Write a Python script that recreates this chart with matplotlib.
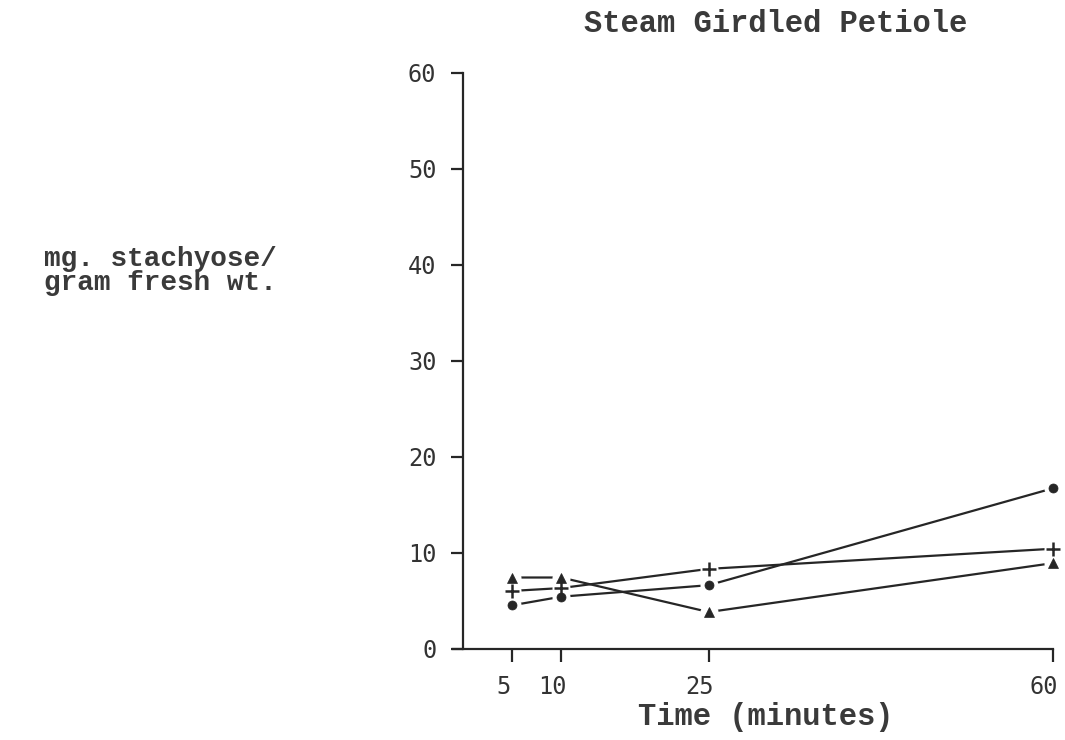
import matplotlib
matplotlib.use('Agg')
import matplotlib.pyplot as plt
from matplotlib.transforms import ScaledTranslation

# data (mg stachyose / g fresh wt)
minutes = [5, 10, 25, 60]
circle_vals = [4.5, 5.4, 6.6, 16.7]
plus_vals = [6.0, 6.3, 8.3, 10.4]
tri_vals = [7.4, 7.4, 3.8, 8.9]
xticks = [5, 10, 25, 60]
yticks = [0, 10, 20, 30, 40, 50, 60]

INK = '#262626'
TXT = '#3a3a3a'
TYPE = ['Liberation Mono', 'DejaVu Sans Mono']
DIGITS = ['DejaVu Sans Mono']

fig = plt.figure(figsize=(10.65, 7.40), dpi=100)
ax = fig.add_axes([453/1065, 1-648.5/740, 600/1065, 578.5/740])

series = [(circle_vals, 'o', 6.5, 0.5), (plus_vals, '+', 10, 1.8), (tri_vals, '^', 7.5, 0.5)]
for vals, mk, ms, mew in series:
    ax.plot(minutes, vals, '-', color=INK, lw=1.6, zorder=2, clip_on=False)
    ax.plot(minutes, vals, 'o', ls='none', color='white', ms=13, mew=0, zorder=3, clip_on=False)   # white halo -> gap between line and marker
for vals, mk, ms, mew in series:
    ax.plot(minutes, vals, mk, ls='none', color=INK, ms=ms, mew=mew, zorder=4, clip_on=False)

ax.set_xlim(-1, 60); ax.set_ylim(0, 60.3)
for s in ('top', 'right'): ax.spines[s].set_visible(False)
ax.spines['left'].set_position(('data', 0)); ax.spines['left'].set_bounds(0, 60)
ax.spines['bottom'].set_bounds(-1, 60)
for s in ('left', 'bottom'): ax.spines[s].set_color(INK); ax.spines[s].set_linewidth(1.6)
ax.set_xticks(xticks); ax.set_yticks(yticks)
ax.tick_params(direction='out', length=9, width=1.6, color=INK, pad=10, labelsize=17, labelcolor='#333333')
for lab in ax.get_xticklabels() + ax.get_yticklabels(): lab.set_family(DIGITS)
off = ScaledTranslation(-9/100, 0, fig.dpi_scale_trans)
for lab in ax.get_xticklabels(): lab.set_transform(lab.get_transform() + off)

ax.set_title('Steam Girdled Petiole', family=TYPE, fontsize=22, color=TXT, fontweight='bold', x=(776-453)/600, y=(648.5-32)/578.5, va='baseline', pad=0)
ax.set_xlabel('Time (minutes)', family=TYPE, fontsize=22, color=TXT, fontweight='bold')
ax.xaxis.set_label_coords((766-453)/600, (648.5-725)/578.5); ax.xaxis.label.set_va('baseline')
fig.text(44/1065, 1-290/740, 'mg. stachyose/\ngram fresh wt.', family=TYPE, fontsize=20, color=TXT, fontweight='bold', va='baseline', linespacing=0.9)

fig.savefig('out.png', dpi=100)
